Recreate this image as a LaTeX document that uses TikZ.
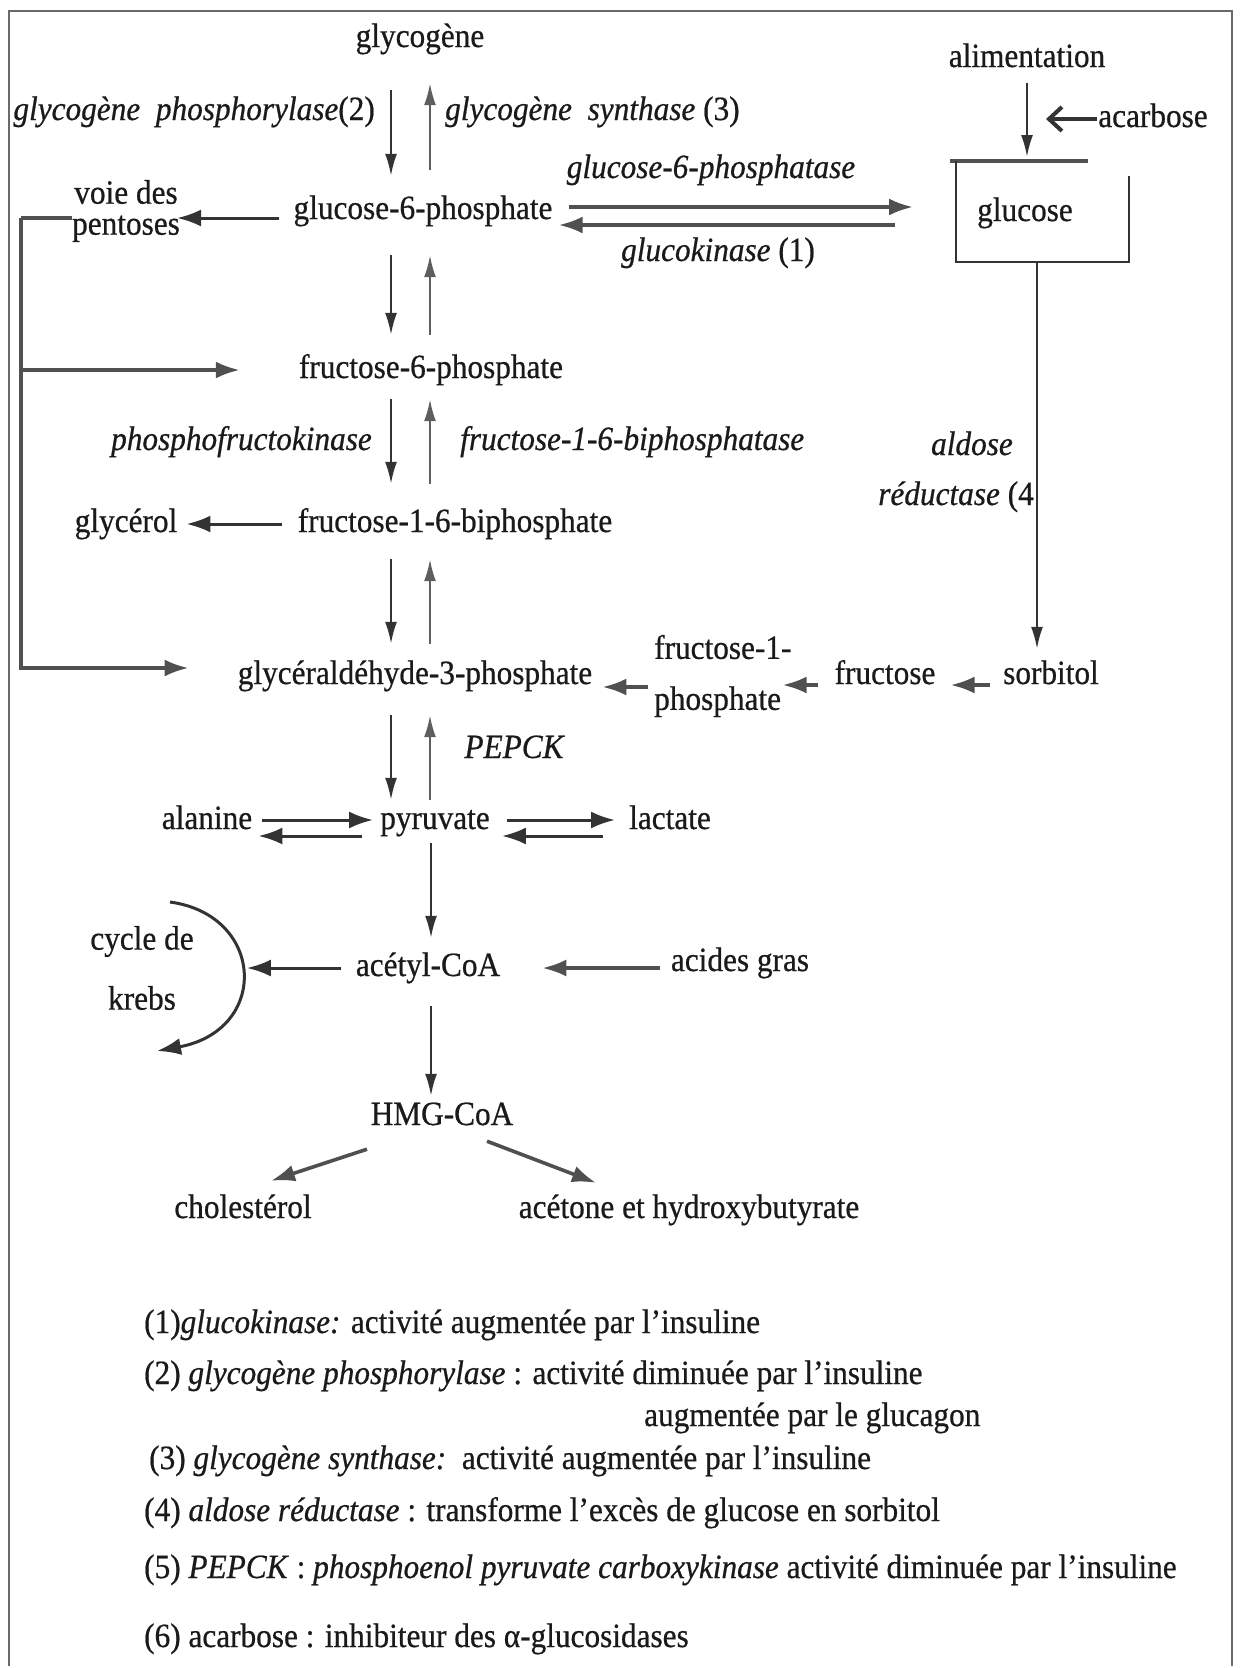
\documentclass[tikz,border=0pt]{standalone}
\usepackage{fontspec}
\setmainfont{Liberation Serif}[FakeStretch=0.92, FakeBold=0.6]
\usetikzlibrary{arrows.meta}
\definecolor{ink}{HTML}{1A1A1A}
\definecolor{lineD}{HTML}{333333}
\definecolor{lineU}{HTML}{5E5E5E}
\definecolor{lineH}{HTML}{505050}
\definecolor{frameC}{HTML}{6A6A6A}
\tikzset{
  txt/.style={inner sep=0pt, text height=24pt, text depth=8pt, text=ink,
    font=\fontsize{34}{36}\selectfont},
  multi/.style={inner sep=0pt, text=ink},
  tip/.style={-{Latex[length=22pt,width=12pt]}},
  bigtip/.style={-{Latex[length=24pt,width=17pt]}},
  arr/.style={draw=lineD, line width=2.2pt, tip},
  arrup/.style={draw=lineU, line width=2.2pt, tip},
  arrH/.style={draw=lineH, line width=3.6pt, bigtip},
  arrK/.style={draw=lineD, line width=3pt, bigtip},
  brk/.style={draw=lineH, line width=3.6pt},
}
\begin{document}
\begin{tikzpicture}[x=1pt,y=-1pt]
% page and frame
\fill[white] (0,0) rectangle (1245,1668);
\useasboundingbox (0,0) rectangle (1245,1668);
\draw[frameC, line width=1.8pt] (9,1666) -- (9,11) -- (1232,11) -- (1232,1666);

% main chain
\node[txt] (glycogene) at (420,39) {glycogène};
\node[txt] (g6p) at (423,211) {glucose-6-phosphate};
\node[txt] (f6p) at (431,370) {fructose-6-phosphate};
\node[txt] (f16bp) at (455,524) {fructose-1-6-biphosphate};
\node[txt] (g3p) at (415,676) {glycéraldéhyde-3-phosphate};
\node[txt] (pyr) at (435,821) {pyruvate};
\node[txt] (acetyl) at (428,968) {acétyl-CoA};
\node[txt] (hmg) at (442,1117) {HMG-CoA};

% side products
\node[multi, align=center, font=\fontsize{34}{31}\selectfont] (voie) at (126,211) {voie des\\pentoses};
\node[txt] (glycerol) at (126,524) {glycérol};
\node[txt] (alanine) at (207,821) {alanine};
\node[txt] (lactate) at (670,821) {lactate};
\node[multi, align=center, font=\fontsize{34}{60}\selectfont] (krebs) at (142,968) {cycle de\\krebs};
\node[txt] (acides) at (740,963) {acides gras};
\node[txt] (chol) at (243,1210) {cholestérol};
\node[txt] (acetone) at (689,1210) {acétone et hydroxybutyrate};

% glucose side
\node[txt] (alim) at (1027,59) {alimentation};
\node[txt] (acarbose) at (1153,119) {acarbose};
\node[txt] (glucose) at (1025,213) {glucose};
\node[txt] (sorbitol) at (1051,676) {sorbitol};
\node[txt] (fructose) at (885,676) {fructose};
\node[multi, align=left, anchor=west, font=\fontsize{34}{51}\selectfont] (f1p) at (654,676) {fructose-1-\\phosphate};

% enzyme labels
\node[txt, anchor=east] (lphos) at (375,112) {\itshape glycogène\ \ phosphorylase\upshape(2)};
\node[txt, anchor=west] (lsynth) at (445,112) {\itshape glycogène\ \ synthase \upshape(3)};
\node[txt] (lg6pase) at (711,170) {\itshape glucose-6-phosphatase};
\node[txt] (lgk) at (718,253) {\itshape glucokinase \upshape(1)};
\node[txt, anchor=east] (lpfk) at (372,442) {\itshape phosphofructokinase};
\node[txt, anchor=west] (lfbp) at (460,442) {\itshape fructose-1-6-biphosphatase};
\node[txt, anchor=east] (lald1) at (1013,447) {\itshape aldose};
\node[txt, anchor=east] (lald2) at (1034,497) {\itshape réductase \upshape(4};
\node[txt] (lpepck) at (514,750) {\itshape PEPCK};

% glucose box
\draw[lineH, line width=3.6pt] (950,161) -- (1088,161);
\draw[lineD, line width=2.2pt] (956,161) -- (956,262) -- (1129,262) -- (1129,176);
\coordinate (boxtop) at (1027,161);
\coordinate (boxbot) at (1037,262);
\coordinate (acTip) at (1046,119);

% glycogen <-> G6P
\coordinate (dnc) at (391,0);
\coordinate (upc) at (430,0);
\coordinate (mainc) at (431,0);
\draw[arr, shorten <=35pt, shorten >=19pt] (glycogene.south -| dnc) -- (g6p.north -| dnc);
\draw[arrup, shorten <=25pt, shorten >=28pt] (g6p.north -| upc) -- (glycogene.south -| upc);
% G6P <-> F6P
\draw[arr, shorten <=28pt, shorten >=19pt] (g6p.south -| dnc) -- (f6p.north -| dnc);
\draw[arrup, shorten <=19pt, shorten >=28pt] (f6p.north -| upc) -- (g6p.south -| upc);
% F6P <-> F16BP
\draw[arr, shorten <=13pt, shorten >=24pt] (f6p.south -| dnc) -- (f16bp.north -| dnc);
\draw[arrup, shorten <=24pt, shorten >=13pt] (f16bp.north -| upc) -- (f6p.south -| upc);
% F16BP <-> G3P
\draw[arr, shorten <=19pt, shorten >=16pt] (f16bp.south -| dnc) -- (g3p.north -| dnc);
\draw[arrup, shorten <=16pt, shorten >=19pt] (g3p.north -| upc) -- (f16bp.south -| upc);
% G3P <-> pyruvate
\draw[arr, shorten <=23pt, shorten >=5pt] (g3p.south -| dnc) -- (pyr.north -| dnc);
\draw[arrup, shorten <=5pt, shorten >=23pt] (pyr.north -| upc) -- (g3p.south -| upc);
% pyruvate -> acetyl-CoA -> HMG-CoA
\draw[arr, shorten <=6pt, shorten >=14pt] (pyr.south -| mainc) -- (acetyl.north -| mainc);
\draw[arr, shorten <=22pt, shorten >=5pt] (acetyl.south -| mainc) -- (hmg.north -| mainc);

% G6P <-> glucose
\draw[arrH, shorten <=16pt, shorten >=64pt] ([yshift=4pt]g6p.east) -- ([yshift=4pt]g6p.east -| glucose.west);
\draw[arrH, shorten <=82pt, shorten >=6pt] ([yshift=-12pt]glucose.west) -- ([yshift=-12pt]glucose.west -| g6p.east);

% alimentation, acarbose
\draw[arr, shorten <=8pt, shorten >=4pt] (alim.south) -- (boxtop);
\draw[draw=lineD, line width=4pt, -{Straight Barb[length=13pt,width=24pt,line width=4pt]}, shorten <=1pt] (acarbose.west) -- (acTip);

% glucose -> sorbitol -> fructose -> fructose-1-phosphate -> G3P
\draw[arr, shorten >=11pt] (boxbot) -- (boxbot |- sorbitol.north);
\draw[arrH, shorten <=13pt, shorten >=15pt] ([yshift=-9pt]sorbitol.west) -- ([yshift=-9pt]sorbitol.west -| fructose.east);
\draw[arrH, shorten <=16pt, shorten >=-9pt] ([yshift=-9pt]fructose.west) -- ([yshift=-9pt]fructose.west -| f1p.east);
\draw[arrH, shorten <=6pt, shorten >=10pt] ([yshift=-11pt]f1p.west) -- ([yshift=-11pt]f1p.west -| g3p.east);

% pentose pathway bracket
\coordinate (br) at (21,218);
\draw[arrK, shorten <=14pt, shorten >=-3pt] ([yshift=-7pt]g6p.west) -- ([yshift=-7pt]g6p.west -| voie.east);
\draw[brk] ([yshift=-7pt]voie.west) -- (br);
\draw[brk, bigtip, shorten >=59pt] (br) |- (f6p.west);
\draw[brk, bigtip, shorten >=49pt] (br) |- ([yshift=8pt]g3p.west);

% glycerol
\draw[arrK, shorten <=16pt, shorten >=9pt] (f16bp.west) -- (glycerol.east);

% alanine / lactate exchanges
\draw[arrK, shorten <=10pt, shorten >=7pt] ([yshift=1pt]alanine.east) -- ([yshift=1pt]alanine.east -| pyr.west);
\draw[arrK, shorten <=18pt, shorten >=6pt] ([yshift=-15pt]pyr.west) -- ([yshift=-15pt]pyr.west -| alanine.east);
\draw[arrK, shorten <=17pt, shorten >=14pt] ([yshift=1pt]pyr.east) -- ([yshift=1pt]pyr.east -| lactate.west);
\draw[arrK, shorten <=26pt, shorten >=12pt] ([yshift=-15pt]lactate.west) -- ([yshift=-15pt]lactate.west -| pyr.east);

% Krebs cycle and fatty acids
\draw[arrK, shorten <=15pt, shorten >=53pt] (acetyl.west) -- (acetyl.west -| krebs.east);
\draw[arrK] (170,902) .. controls (265,915) and (270,1030) .. (157,1051);
\draw[arrH, shorten <=11pt, shorten >=42pt] ([yshift=-5pt]acides.west) -- ([yshift=-5pt]acides.west -| acetyl.east);

% HMG-CoA branches
\draw[arrH] ([xshift=-75pt,yshift=-16pt]hmg.south) -- ([xshift=28pt,yshift=13pt]chol.north);
\draw[arrH] ([xshift=45pt,yshift=-8pt]hmg.south) -- ([xshift=-93pt,yshift=11pt]acetone.north);

% legend
\node[txt, anchor=west] (n1) at (144,1325) {(1)\textit{glucokinase:} activité augmentée par l'insuline};
\node[txt, anchor=west] (n2) at (144,1376) {(2) \textit{glycogène phosphorylase} : activité diminuée par l'insuline};
\node[txt, anchor=west] (n2b) at (644,1418) {augmentée par le glucagon};
\node[txt, anchor=west] (n3) at (149,1461) {(3) \textit{glycogène synthase:}\ \ activité augmentée par l'insuline};
\node[txt, anchor=west] (n4) at (144,1513) {(4)\ \textit{aldose réductase} : transforme l'excès de glucose en sorbitol};
\node[txt, anchor=west] (n5) at (144,1570) {(5) \textit{PEPCK} : \textit{phosphoenol pyruvate carboxykinase} activité diminuée par l'insuline};
\node[txt, anchor=west] (n6) at (144,1639) {(6) acarbose : inhibiteur des α-glucosidases};
\end{tikzpicture}
\end{document}
